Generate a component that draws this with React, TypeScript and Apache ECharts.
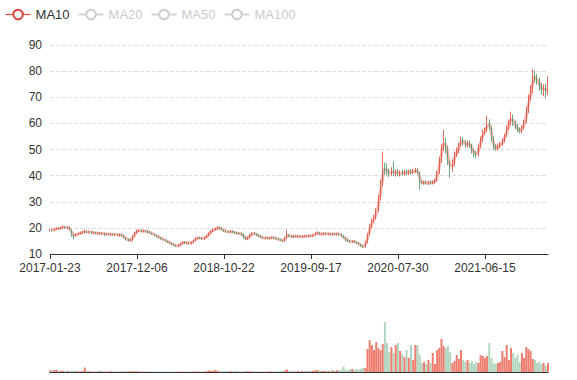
import React, { useEffect, useRef } from "react";
import * as echarts from "echarts";

// Axis tick labels (every 40th candle carries one)
const tickLabels = ["2017-01-23", "2017-12-06", "2018-10-22", "2019-09-17", "2020-07-30", "2021-06-15"];
const CANDLES_PER_LABEL = 40;

// Each candle ≈ one trading week
const opens = [
  19.0,19.4,19.1,19.5,19.9,19.7,20.0,20.5,19.9,20.3,
  19.2,17.4,17.0,17.7,17.7,18.3,18.3,18.7,18.2,18.6,
  18.0,18.3,17.8,18.1,17.7,18.0,17.5,17.8,17.4,17.7,
  17.3,17.6,17.2,17.5,17.1,16.3,15.7,15.1,15.3,16.9,
  18.1,18.7,19.1,18.6,18.9,18.7,18.5,18.0,17.5,17.1,
  16.9,16.2,15.8,15.4,14.9,14.5,14.1,13.8,13.3,12.9,
  13.4,13.8,14.7,14.1,14.5,14.0,14.6,15.3,15.9,16.3,
  16.1,15.8,16.4,17.1,17.9,18.7,19.4,19.5,20.3,19.9,
  19.2,18.9,18.7,18.3,18.8,18.4,18.2,18.0,17.9,17.5,
  16.5,15.5,16.5,17.3,18.0,17.8,17.3,16.9,16.5,16.0,
  16.3,15.9,16.1,16.4,16.2,15.9,15.7,15.3,14.9,16.1,
  17.4,16.9,16.5,17.0,16.6,16.9,16.5,16.6,17.0,16.7,
  17.1,16.8,17.2,17.8,18.2,17.5,17.6,18.0,17.5,17.9,
  17.4,17.8,17.5,17.9,17.5,17.0,16.3,15.5,15.1,14.6,
  15.0,14.6,14.3,13.8,13.2,12.7,14.4,17.6,20.6,22.9,
  23.8,26.8,31.5,36.9,43.6,43.5,41.8,40.2,42.4,40.5,
  41.8,40.4,41.5,40.6,41.7,40.8,41.9,41.0,41.6,42.2,
  41.0,37.8,37.0,37.7,36.8,37.6,37.0,37.5,38.2,41.2,
  45.8,50.8,53.2,50.5,45.0,42.8,44.6,48.3,49.2,51.8,
  54.0,52.8,51.5,52.6,51.7,49.8,48.7,47.8,51.2,53.6,
  56.8,57.3,60.8,58.2,54.4,51.2,50.1,51.2,52.0,53.2,
  55.4,58.4,60.0,62.8,60.3,59.0,57.8,56.8,58.3,60.8,
  64.6,69.8,72.0,78.8,77.4,76.8,74.5,72.5,74.2,71.8,
];

const closes = [
  19.3,19.0,19.6,19.8,19.7,20.1,20.4,20.0,20.2,19.4,
  17.3,17.0,17.6,17.8,18.2,18.4,18.6,18.3,18.5,18.1,
  18.2,17.9,18.0,17.8,17.9,17.6,17.7,17.5,17.6,17.4,
  17.5,17.3,17.4,17.0,16.4,15.6,15.2,15.4,16.8,18.2,
  18.8,19.0,18.7,18.9,18.6,18.4,18.1,17.6,17.2,16.8,
  16.3,15.9,15.5,15.0,14.6,14.2,13.8,13.4,13.0,13.3,
  13.9,14.6,14.2,14.4,14.0,14.5,15.2,16.0,16.2,16.0,
  15.9,16.3,17.0,18.0,18.8,19.3,19.6,20.2,19.8,19.3,
  18.8,18.6,18.4,18.7,18.3,18.1,17.9,17.8,17.6,16.4,
  15.6,16.4,17.4,17.9,17.7,17.2,16.8,16.4,16.1,16.2,
  16.0,16.2,16.3,16.1,15.8,15.6,15.2,15.0,16.2,17.3,
  16.8,16.6,16.9,16.7,16.8,16.6,16.7,16.9,16.8,17.0,
  16.9,17.3,17.9,18.1,17.6,17.7,17.9,17.6,17.8,17.5,
  17.7,17.6,17.8,17.4,16.9,16.2,15.4,15.0,14.7,14.9,
  14.5,14.2,13.7,13.1,12.6,14.5,17.5,20.8,22.5,24.0,
  26.5,31.0,36.5,41.5,43.0,41.5,40.5,42.0,40.8,41.5,
  40.6,41.2,40.8,41.4,41.0,41.6,41.2,41.8,42.0,41.3,
  37.5,37.2,37.5,37.0,37.4,37.2,37.6,38.0,41.0,46.0,
  50.5,53.5,50.0,45.5,42.5,45.0,48.0,49.5,51.5,53.8,
  52.5,51.8,52.3,51.5,49.5,48.5,48.0,51.0,54.0,56.5,
  57.0,60.5,58.5,54.0,51.0,50.3,51.5,51.8,53.5,55.0,
  58.0,60.2,62.5,60.0,58.8,57.5,57.0,58.5,60.5,65.0,
  69.5,72.5,78.5,77.0,76.5,74.0,72.8,73.8,72.0,73.5,
];

const lows = [
  18.6,18.5,18.9,19.2,19.3,19.4,19.7,19.7,19.6,19.1,
  16.6,15.6,16.7,17.3,17.4,17.9,18.0,18.0,17.9,17.8,
  17.7,17.6,17.5,17.5,17.4,16.8,17.2,17.2,17.1,17.1,
  17.0,16.9,16.6,16.7,16.0,15.2,14.8,14.8,15.1,16.6,
  17.8,18.4,18.4,18.3,18.3,18.1,17.8,17.3,16.9,16.5,
  16.0,15.6,15.2,14.7,14.3,13.9,13.5,13.1,12.7,12.7,
  13.1,13.6,13.9,13.8,13.7,13.7,14.3,15.0,15.6,15.7,
  15.6,15.5,16.1,16.8,17.6,18.4,19.0,19.2,19.4,19.0,
  18.5,18.3,18.1,18.0,18.0,17.8,17.6,17.5,17.0,16.0,
  15.3,15.3,16.2,17.0,17.4,16.9,16.5,16.1,15.8,15.7,
  15.7,15.6,15.8,15.8,15.5,15.3,14.9,14.7,14.7,15.9,
  16.5,16.3,16.2,16.4,16.3,16.3,16.2,16.3,16.5,16.4,
  16.6,16.6,17.0,17.5,17.3,17.2,17.3,17.3,17.2,17.2,
  17.1,17.3,17.2,17.1,16.6,15.9,15.0,14.6,14.3,14.3,
  14.2,13.9,13.4,12.8,12.2,12.5,14.2,17.2,20.0,22.0,
  23.2,26.2,30.8,36.0,40.5,40.2,39.5,39.8,40.0,39.6,
  39.8,39.7,40.0,40.0,40.3,40.2,40.5,40.6,41.0,40.6,
  34.6,36.6,36.5,36.5,36.4,36.6,36.6,37.0,37.6,40.6,
  45.0,49.5,48.5,44.0,39.2,41.5,43.8,47.2,48.5,51.0,
  51.5,50.6,50.8,50.5,48.4,47.0,46.6,47.2,50.5,53.0,
  55.6,56.8,57.5,53.0,49.8,49.5,49.6,50.4,51.4,52.6,
  54.8,57.6,59.3,59.0,57.8,56.5,56.2,56.2,57.8,60.2,
  64.0,68.8,71.5,75.5,74.8,72.5,71.0,70.5,69.5,70.8,
];

const highs = [
  19.7,19.7,19.9,20.1,20.2,20.4,20.9,20.7,20.5,20.5,
  19.4,17.8,17.9,18.1,18.5,18.7,19.4,18.9,18.8,18.8,
  18.5,18.5,18.3,18.3,18.2,18.2,18.0,18.0,17.9,17.9,
  17.8,17.8,17.7,17.7,17.3,16.5,15.9,15.8,17.1,18.5,
  19.2,19.4,19.3,19.2,19.1,18.9,18.7,18.2,17.8,17.3,
  17.1,16.5,16.1,15.6,15.1,14.8,14.3,14.0,13.5,13.6,
  14.2,15.0,14.9,14.7,14.7,14.8,15.5,16.3,16.5,16.6,
  16.4,16.6,17.3,18.3,19.1,19.7,20.0,20.6,20.5,20.1,
  19.4,19.1,18.9,19.0,19.0,18.6,18.4,18.3,18.1,17.7,
  16.7,16.7,17.7,18.3,18.2,18.0,17.5,17.1,16.7,16.5,
  16.5,16.5,16.6,16.6,16.4,16.1,15.9,15.5,16.5,19.3,
  17.6,17.1,17.2,17.2,17.1,17.1,17.0,17.2,17.2,17.3,
  17.3,17.6,18.2,18.6,18.4,18.0,18.2,18.2,18.1,18.1,
  18.0,18.1,18.1,18.1,17.7,17.2,16.5,15.7,15.3,15.2,
  15.2,14.8,14.5,14.0,13.4,14.9,18.0,21.4,23.6,25.0,
  27.6,32.5,38.5,49.2,45.0,44.8,42.5,43.2,45.4,42.4,
  42.5,42.0,42.3,42.2,42.4,42.3,42.5,42.6,43.0,42.8,
  41.5,38.3,38.1,38.2,38.0,38.1,38.2,38.7,41.8,47.2,
  52.0,57.5,54.5,51.2,45.8,46.2,49.2,50.8,52.6,55.0,
  54.8,53.6,53.4,53.3,52.2,50.4,49.4,52.0,55.0,57.6,
  58.4,63.0,61.5,58.8,55.0,52.0,52.3,52.8,54.3,56.0,
  59.2,61.4,64.5,63.4,61.0,59.8,58.5,59.3,61.4,66.5,
  71.0,74.5,80.7,80.2,79.0,77.6,75.5,75.0,75.2,78.0,
];

// Volume (10k lots)
const volumes = [
  1.5,2.0,1.8,2.2,1.5,1.2,1.0,0.8,1.2,0.9,
  1.5,1.3,0.8,0.6,0.7,0.9,4.5,1.2,0.8,0.6,
  0.5,0.7,0.6,1.5,0.8,0.6,0.5,0.7,0.9,0.6,
  0.5,0.6,0.4,0.8,0.7,1.0,1.2,0.9,0.6,0.8,
  0.7,0.5,0.6,0.4,0.5,0.6,0.4,0.5,0.3,0.4,
  0.5,0.4,0.3,0.4,0.5,0.3,0.4,0.6,0.5,0.4,
  0.5,0.3,0.4,0.5,0.4,0.3,0.5,0.4,0.6,0.5,
  0.4,0.6,0.8,1.5,1.0,1.2,2.0,1.4,0.9,1.1,
  0.8,1.0,0.7,0.9,0.6,0.8,1.2,0.7,0.5,0.9,
  1.3,0.8,0.6,0.7,0.5,0.6,0.4,0.5,0.6,0.4,
  0.5,0.7,0.4,0.6,0.5,0.8,1.0,0.9,1.4,2.5,
  1.2,0.8,0.9,0.7,1.0,0.6,0.8,0.7,1.1,0.9,
  1.0,1.2,1.6,2.0,1.3,1.1,0.9,1.2,1.0,1.4,
  1.5,1.2,1.8,1.6,2.2,5.5,2.0,1.8,2.6,3.0,
  2.2,2.8,2.4,3.2,4.2,4.0,23,32,27,22,
  30,24,22,28,50,29,20,25,19,27,
  29,21,18,15,22,14,27,12,27,27,
  17,9,10,8,12,9,19,8,22,24,
  33,26,24,26,20,9,11,17,13,22,
  12,10,12,9,11,8,10,9,17,16,
  14,16,29,14,9,8,9,10,21,15,
  27,12,24,19,14,17,10,19,14,25,
  23,21,13,12,9,10,8,9,6,9,
];

const maNames = ["MA10", "MA20", "MA50", "MA100"];
// one candle spans ~5 trading days
const maWindows = [2, 4, 10, 20];

const UP = "#e0503f";
const DOWN = "#4f9a6c";

function buildDates(): string[] {
  const day = 86400000;
  const t = tickLabels.map((d) => Date.parse(d + "T00:00:00Z"));
  const lastSpan = t[t.length - 1] - t[t.length - 2];
  const out: string[] = [];
  for (let i = 0; i < closes.length; i++) {
    const seg = Math.floor(i / CANDLES_PER_LABEL);
    const j = i % CANDLES_PER_LABEL;
    const a = t[seg];
    const b = seg + 1 < t.length ? t[seg + 1] : a + lastSpan;
    const ms = a + Math.round((j * (b - a)) / CANDLES_PER_LABEL / day) * day;
    out.push(new Date(ms).toISOString().slice(0, 10));
  }
  return out;
}

function movingAverage(win: number): (number | string)[] {
  return closes.map((_, i) => {
    if (i < win - 1) return "-";
    let s = 0;
    for (let k = 0; k < win; k++) s += closes[i - k];
    return +(s / win).toFixed(2);
  });
}

export default function App() {
  const ref = useRef<HTMLDivElement>(null);
  useEffect(() => {
    document.body.style.margin = "0";
    if (!ref.current) return;
    const chart = echarts.init(ref.current, undefined, { renderer: "svg" });
    const dates = buildDates();
    const candleData = closes.map((c, i) => [opens[i], c, lows[i], highs[i]]);
    const volData = volumes.map((v, i) => ({
      value: v,
      itemStyle: {
        color: closes[i] >= opens[i] ? "rgba(232,80,62,0.75)" : "rgba(79,160,110,0.45)",
      },
    }));
    const maColors = ["#d9473f", "#5470c6", "#fac858", "#91cc75"];
    chart.setOption({
      animation: false,
      legend: {
        left: 0,
        top: 3,
        data: maNames,
        selected: { MA10: true, MA20: false, MA50: false, MA100: false },
        inactiveColor: "#ccc",
        textStyle: { fontSize: 13, color: "#333" },
        lineStyle: { width: 1.2, opacity: 1, color: "#d9473f" },
        itemStyle: { borderWidth: 1 },
        itemWidth: 25,
        itemHeight: 12,
      },
      grid: [
        { left: 50, right: 29, top: 45, height: 209 },
        { left: 50, right: 29, top: 322, height: 50 },
      ],
      xAxis: [
        {
          type: "category",
          data: dates,
          boundaryGap: false,
          axisLine: { lineStyle: { color: "#333" } },
          axisTick: { interval: CANDLES_PER_LABEL - 1 },
          axisLabel: { interval: CANDLES_PER_LABEL - 1, color: "#333", fontSize: 12 },
          splitLine: { show: false },
        },
        {
          type: "category",
          gridIndex: 1,
          data: dates,
          boundaryGap: false,
          axisLine: { lineStyle: { color: "#333" } },
          axisTick: { show: false },
          axisLabel: { show: false },
          splitLine: { show: false },
        },
      ],
      yAxis: [
        {
          type: "value",
          min: 10,
          max: 90,
          interval: 10,
          axisLine: { show: false },
          axisTick: { show: false },
          axisLabel: { color: "#333", fontSize: 12 },
          splitLine: { lineStyle: { type: "dashed", color: "#ddd" } },
        },
        {
          type: "value",
          gridIndex: 1,
          min: 0,
          max: "dataMax",
          axisLine: { show: false },
          axisTick: { show: false },
          axisLabel: { show: false },
          splitLine: { show: false },
        },
      ],
      series: [
        ...maNames.map((n, k) => ({
          name: n,
          type: "line",
          data: movingAverage(maWindows[k]),
          smooth: true,
          showSymbol: false,
          symbol: "emptyCircle",
          symbolSize: 8,
          color: maColors[k],
          itemStyle: { borderWidth: 1 },
          z: 1,
          lineStyle: { width: 3, opacity: 0.55, color: "#ee7a70" },
        })),
        {
          name: "K",
          type: "candlestick",
          data: candleData,
          z: 3,
          barWidth: 1,
          itemStyle: {
            color: UP,
            color0: DOWN,
            borderColor: UP,
            borderColor0: DOWN,
            opacity: 0.85,
          },
        },
        {
          name: "Volume",
          type: "bar",
          xAxisIndex: 1,
          yAxisIndex: 1,
          barWidth: "90%",
          data: volData,
        },
      ],
    });
    return () => chart.dispose();
  }, []);
  return <div ref={ref} style={{ width: 577, height: 380 }} />;
}
